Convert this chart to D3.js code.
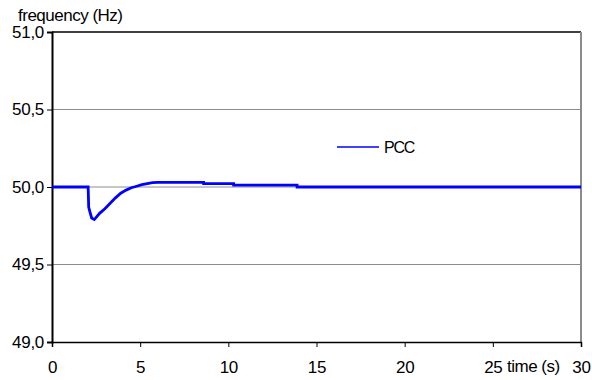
<!DOCTYPE html>
<html><head><meta charset="utf-8">
<script src="https://cdn.jsdelivr.net/npm/d3@7"></script>
<style>body{margin:0;background:#fff}svg{display:block}text{font-family:"Liberation Sans",Arial,sans-serif;fill:#000}</style>
</head><body><svg id="c" width="592" height="380"></svg>
<script>
const times  = [0, 2.05, 2.08, 2.15, 2.25, 2.4, 2.7, 3.0, 3.3, 3.6, 3.9, 4.2, 4.5, 4.8, 5.1, 5.4, 5.7, 6.0, 8.6, 8.6, 10.3, 10.3, 13.9, 13.9, 30];
const freq   = [50, 50, 49.87, 49.84, 49.8, 49.79, 49.83, 49.86, 49.895, 49.93, 49.96, 49.98, 49.995, 50.005, 50.015, 50.022, 50.028, 50.03, 50.03, 50.022, 50.022, 50.012, 50.012, 50.0, 50.0];
const xTicks = [0, 5, 10, 15, 20, 25, 30];
const yTicks = [49.0, 49.5, 50.0, 50.5, 51.0];
const seriesName = "PCC";

const svg = d3.select("#c");
const L = 52, R = 581, T = 32, B = 342;
const x = d3.scaleLinear().domain([0, 30]).range([L, R]);
const y = d3.scaleLinear().domain([49, 51]).range([B, T]);
const fmt = v => d3.format(".1f")(v).replace(".", ",");

// gridlines
svg.append("g").selectAll("line").data(yTicks.filter(v => v > 49 && v < 51)).join("line")
  .attr("x1", L).attr("x2", R).attr("y1", d => y(d)).attr("y2", d => y(d))
  .attr("stroke", "#8c8c8c").attr("stroke-width", 1);
// top border and right border
svg.append("line").attr("x1", L).attr("x2", R).attr("y1", T).attr("y2", T).attr("stroke", "#000").attr("stroke-width", 1.5);
svg.append("line").attr("x1", R).attr("x2", R).attr("y1", T).attr("y2", B).attr("stroke", "#8c8c8c").attr("stroke-width", 2);

// axes
const yAxis = svg.append("g").attr("transform", `translate(${L},0)`)
  .call(d3.axisLeft(y).tickValues(yTicks).tickFormat(fmt).tickSize(5).tickPadding(3));
const xAxis = svg.append("g").attr("transform", `translate(0,${B})`)
  .call(d3.axisBottom(x).tickValues(xTicks).tickFormat(d3.format("d")).tickSize(5).tickPadding(14));
[yAxis, xAxis].forEach(a => {
  a.select(".domain").attr("stroke", "#000").attr("stroke-width", 2);
  a.selectAll(".tick line").attr("stroke", "#000");
  a.selectAll("text").attr("font-size", 17).attr("font-family", '"Liberation Sans",Arial,sans-serif').attr("fill", "#000").attr("letter-spacing", -0.3);
});
xAxis.select(".domain").attr("stroke-width", 1.5);

// line
const pts = times.map((t, i) => [t, freq[i]]);
svg.append("path").datum(pts)
  .attr("d", d3.line().x(d => x(d[0])).y(d => y(d[1])))
  .attr("fill", "none").attr("stroke", "#0000ff").attr("stroke-width", 2.8);

// legend
svg.append("line").attr("x1", 337).attr("x2", 379).attr("y1", 147).attr("y2", 147).attr("stroke", "#0000ff").attr("stroke-width", 1.5);
svg.append("text").attr("x", 384).attr("y", 153).attr("font-size", 16).attr("letter-spacing", -1.2).text(seriesName);

// axis titles
svg.append("text").attr("x", 18).attr("y", 21).attr("font-size", 17).attr("letter-spacing", -0.5).text("frequency (Hz)");
svg.append("text").attr("x", 507).attr("y", 372).attr("font-size", 17).attr("letter-spacing", -0.5).text("time (s)");
</script></body></html>
